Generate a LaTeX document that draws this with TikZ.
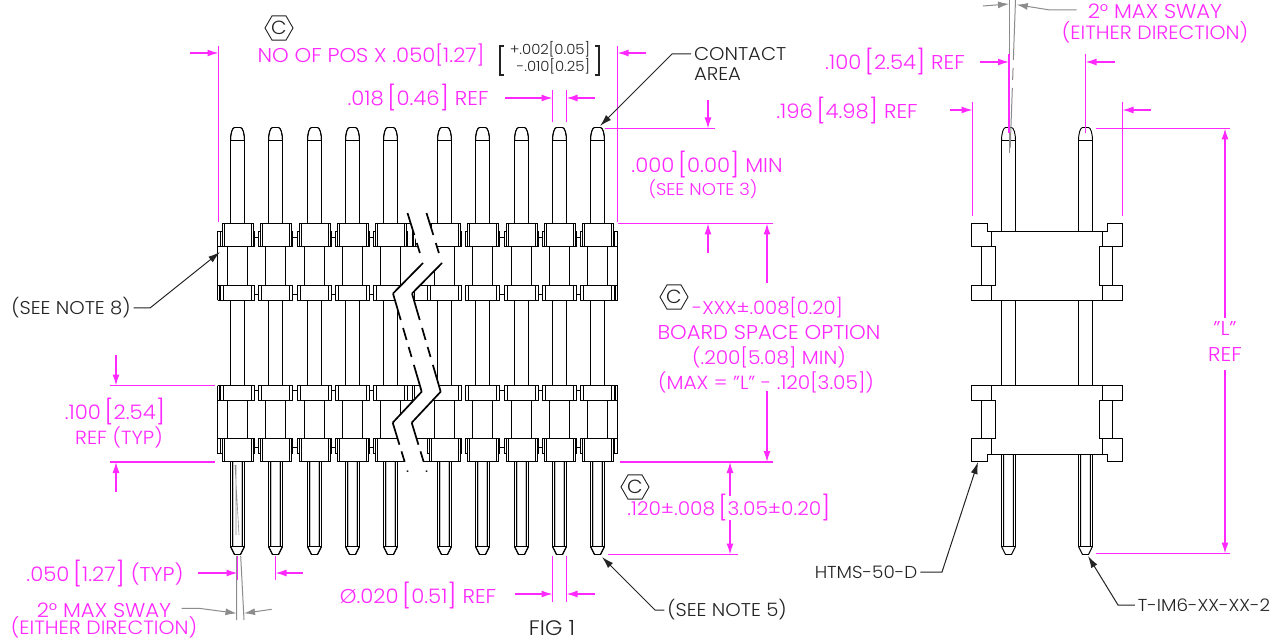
\documentclass[tikz,border=0pt]{standalone}
\usepackage{fontspec}
\setmainfont{Poppins Light}[FakeStretch=1.06]
\usepackage{tikz}
\usetikzlibrary{arrows.meta, shapes.geometric}
\definecolor{dimcol}{RGB}{255,40,255}
\definecolor{swaycol}{RGB}{140,140,140}
\definecolor{inkcol}{RGB}{35,35,35}
\tikzset{
  part/.style={draw=black, line width=0.95pt, line join=miter},
  dimln/.style={draw=dimcol, line width=1.35pt},
  dimarr/.style={dimln, -{Latex[length=11pt,width=7pt]}},
  swayln/.style={draw=swaycol, line width=1pt},
  swayarr/.style={swayln, -{Latex[length=11pt,width=7pt]}},
  leadarr/.style={draw=inkcol, line width=1pt, -{Latex[length=12pt,width=7pt]}},
  dimtxt/.style={text=dimcol, font=\fontsize{20}{20}\selectfont, inner sep=0pt},
  inktxt/.style={text=inkcol, font=\fontsize{18.5}{18.5}\selectfont, inner sep=0pt, outer sep=3pt},
  hexmark/.style={regular polygon, regular polygon sides=6, draw=inkcol, line width=0.9pt,
    minimum size=28pt, inner sep=0pt, text=inkcol, font=\fontsize{19}{19}\selectfont},
  breakln/.style={draw=black, line width=1.7pt}
}
\newcommand{\brk}[1]{\,\raisebox{-1.8pt}{\fontsize{24}{24}\selectfont[}#1\raisebox{-1.8pt}{\fontsize{24}{24}\selectfont]}}
% pin parts, local x measured from the pin axis
\newcommand{\pinHead}[1]{\draw[part] (-7,#1) -- (-7,140.5) .. controls (-7,133) and (-5,127.5) .. (-3,127.5) -- (3,127.5)
  .. controls (5,127.5) and (7,133) .. (7,140.5) -- (7,#1) (-7,140.5) -- (7,140.5);}
\newcommand{\pinFoot}[1]{\draw[part] (-7,#1) -- (-7,546.5) -- (-3,554.5) -- (3,554.5) -- (7,546.5) -- (7,#1)
  (-4.8,#1) -- (-4.8,546.5) (4.8,#1) -- (4.8,546.5) (-7,546.5) -- (7,546.5);}
\newcommand{\tallRow}[4]{\draw[part, fill=white] (-16.7,#3) rectangle (16.7,#4);
  \draw[part, fill=white] (-15.3,#1) rectangle (15.7,#2);
  \draw[part] (-13.3,#1) -- (-13.3,#2) (13.7,#1) -- (13.7,#2);}
\newcommand{\thinRow}[2]{\draw[part, fill=white] (-16.7,#1) rectangle (16.7,#2);
  \draw[part] (-14.3,#1) -- (-14.3,#2) (14,#1) -- (14,#2);}
\newcommand{\allRows}{\tallRow{223.5}{246.5}{231.5}{246.5}\thinRow{285.5}{300.5}\thinRow{385.5}{400.5}\tallRow{438.5}{461.5}{438.5}{453.5}}
\begin{document}
\begin{tikzpicture}[x=1pt, y=-1pt]
\useasboundingbox (0,0) rectangle (1270,639);
\fill[white] (0,0) rectangle (1270,639);
% sway lines inside the first pin
\draw[swaycol, line width=0.6pt] (235,465) -- (239,535) (236,465) -- (236,535);
% front view
\foreach \cx in {237.5,275.5,314.5,352.5,390.5,405.6,429,482.5,521.5,559.5} {
  \draw[part] (\cx+16.7,237.5) -- ++(6,0) (\cx+16.7,294.5) -- ++(6,0) (\cx+16.7,390.5) -- ++(6,0) (\cx+16.7,447.5) -- ++(6,0);
}
\foreach \cx in {405.6,429} \begin{scope}[xshift=\cx pt] \allRows \end{scope}
\foreach \cx in {237.5,275.5,314.5,352.5,390.5,444.5,482.5,521.5,559.5,597.5} {
  \begin{scope}[xshift=\cx pt]
    \pinHead{223.5} \pinFoot{461.5}
    \draw[part] (-7,300.5) -- (-7,385.5) (7,300.5) -- (7,385.5);
    \draw[part] (-9.7,246.5) -- (-9.7,285.5) (9.7,246.5) -- (9.7,285.5) (-9.7,400.5) -- (-9.7,438.5) (9.7,400.5) -- (9.7,438.5);
    \allRows
  \end{scope}
}
\foreach \ex/\sx in {217.5/1,617.5/-1} {
  \draw[part] (\ex,231.5) -- (\ex,300.5) (\ex,231.5) -- ++(\sx*4,0) (\ex,246.5) -- ++(\sx*4,0)
    (\ex,285.5) -- ++(\sx*5,0) (\ex,300.5) -- ++(\sx*5,0) (\ex+\sx*2.3,285.5) -- (\ex+\sx*2.3,300.5);
  \draw[part] (\ex,385.5) -- (\ex,453.5) (\ex,385.5) -- ++(\sx*5,0) (\ex,400.5) -- ++(\sx*5,0)
    (\ex,438.5) -- ++(\sx*4,0) (\ex,453.5) -- ++(\sx*4,0) (\ex+\sx*2.3,385.5) -- (\ex+\sx*2.3,400.5);
}
% break
\fill[white] (407.5,213) -- (423,263) -- (393,293.5) -- (421.7,391.7) -- (392.7,422.7) -- (407.7,471.7) -- (426.7,471.7)
  -- (411.7,422.7) -- (440.7,391.7) -- (412,293.5) -- (442,263) -- (426.5,213) -- cycle;
\foreach \sh in {0,19} {
  \begin{scope}[xshift=\sh pt]
    \draw[breakln, dash pattern=on 23pt off 8.4pt on 10.5pt off 11pt] (407.5,213) -- (423,263);
    \draw[breakln, line join=miter] (423,263) -- (393,293.5);
    \draw[breakln, dash pattern=on 27.6pt off 8.3pt on 12.5pt off 7.3pt on 10.4pt off 8.3pt on 28pt off 2pt] (393,293.5) -- (421.7,391.7);
    \draw[breakln] (421.7,391.7) -- (392.7,422.7);
    \draw[breakln, dash pattern=on 23pt off 7pt on 11pt off 9pt on 1.6pt off 3pt] (392.7,422.7) -- (407.7,471.7);
  \end{scope}
}
% side view
\foreach \cx in {1008.5,1085.5} {
  \begin{scope}[xshift=\cx pt]
    \pinHead{231.5} \pinFoot{454.5}
    \draw[part] (-7,300.5) -- (-7,385.5) (7,300.5) -- (7,385.5);
  \end{scope}
}
\foreach \ya/\yb/\yc/\yd/\ye in {223.5/231.5/246.5/285.5/300.5, 461.5/454.5/438.5/400.5/385.5} {
  \draw[part] (971.5,\ya) -- (987.5,\ya) -- (987.5,\yb) -- (1107.5,\yb) -- (1107.5,\ya) -- (1122.5,\ya) -- (1122.5,\yc) -- (1099.5,\yc)
     -- (1099.5,\yd) -- (1122.5,\yd) -- (1122.5,\ye) -- (971.5,\ye) -- (971.5,\yd) -- (995.5,\yd) -- (995.5,\yc) -- (971.5,\yc) -- cycle;
  \draw[part] (991.5,\yb) -- (991.5,\yc) (991.5,\yd) -- (991.5,\ye) (1102.5,\yb) -- (1102.5,\yc) (1102.5,\yd) -- (1102.5,\ye)
     (981.5,\yc) -- (981.5,\yd) (1112.5,\yc) -- (1112.5,\yd);
}
% sway marks
\draw[swayln] (236.5,556) -- (236.5,620) (240.7,556) -- (244,620);
\draw[swayarr] (181.7,608.3) -- (199,608.3) -- (236.5,613.3);
\draw[swayarr] (271.7,609.3) -- (244,613.3);
\draw[swayln] (1009,0) -- (1009,153);
\draw[swayln, dash pattern=on 60pt off 8pt on 12pt off 8pt on 60pt] (1015.5,0) -- (1010,153);
\draw[swayarr] (983,6) -- (1009,4);
\draw[swayarr] (1076.7,10) -- (1050,10) -- (1016.7,4.7);
% extension lines
\draw[dimln] (218.5,46) -- (218.5,222) (617.5,46) -- (617.5,222) (552.5,90) -- (552.5,122) (566.5,90) -- (566.5,122)
  (605,128.5) -- (715,128.5) (618,223.5) -- (773,223.5) (620,462) -- (773,462) (608,554.5) -- (738,554.5)
  (110,385.5) -- (215,385.5) (110,462) -- (215,462) (237.5,556) -- (237.5,580) (275.5,556) -- (275.5,580)
  (552.5,556) -- (552.5,602) (566.5,556) -- (566.5,602) (1009,54) -- (1009,133) (1085.5,54) -- (1085.5,133)
  (972.5,102) -- (972.5,216) (1122.5,102) -- (1122.5,216) (1096,128.5) -- (1230,128.5) (1096,553.5) -- (1230,553.5);
% dimension arrows
\draw[dimarr] (190,53) -- (218.5,53);
\draw[dimarr] (646,53) -- (617.5,53);
\draw[dimarr] (505,98) -- (552.5,98);
\draw[dimarr] (595,98) -- (566.5,98);
\draw[dimarr] (708,100) -- (708,128.5);
\draw[dimarr] (708,253) -- (708,223.5);
\draw[dimarr] (767,283) -- (767,223.5);
\draw[dimarr] (767,391) -- (767,462);
\draw[dimarr] (730,496) -- (730,462);
\draw[dimarr] (730,520) -- (730,554.5);
\draw[dimarr] (116,355) -- (116,385.5);
\draw[dimarr] (116,492) -- (116,462);
\draw[dimarr] (198,573) -- (237.5,573);
\draw[dimarr] (303,573) -- (275.5,573);
\draw[dimarr] (515,594) -- (552.5,594);
\draw[dimarr] (595,594) -- (566.5,594);
\draw[dimarr] (980,62) -- (1009,62);
\draw[dimarr] (1115,62) -- (1085.5,62);
\draw[dimarr] (950,110) -- (972.5,110);
\draw[dimarr] (1151,110) -- (1122.5,110);
\draw[dimarr] (1225,318) -- (1225,128.5);
\draw[dimarr] (1225,370) -- (1225,553.5);
% hex marks
\node[hexmark] (hexpos) at (279,28) {C};
\node[hexmark] (hexspace) at (674,297) {C};
\node[hexmark] (hextail) at (635,487) {C};
% labels
\node[dimtxt] (npos) at (371,55) {NO OF POS X .050[1.27]};
\node[dimtxt] (nlead) at (418,98) {.018\brk{0.46} REF};
\node[dimtxt] (nmin) at (707,165) {.000\brk{0.00} MIN};
\node[dimtxt, font=\fontsize{17}{17}\selectfont] (nnote3) at (703,189) {(SEE NOTE 3)};
\node[dimtxt, font=\fontsize{18.5}{18.5}\selectfont] (nxxx) at (767.5,308) {-XXX±.008[0.20]};
\node[dimtxt] (nboard) at (769,332) {BOARD SPACE OPTION};
\node[dimtxt, font=\fontsize{19}{19}\selectfont] (nmins) at (769,357) {(.200[5.08] MIN)};
\node[dimtxt, font=\fontsize{19}{19}\selectfont] (nmax) at (766,382) {(MAX = "L" - .120[3.05])};
\node[dimtxt, font=\fontsize{19}{19}\selectfont] (ntail) at (729,508) {.120±.008\brk{3.05±0.20}};
\node[dimtxt] (npitch) at (115,412) {.100\brk{2.54}};
\node[dimtxt, font=\fontsize{19}{19}\selectfont] (nreftyp) at (119,437) {REF (TYP)};
\node[dimtxt] (nsq) at (105,574) {.050\brk{1.27} (TYP)};
\node[dimtxt] (nswaya) at (104,610) {2° MAX SWAY};
\node[dimtxt, font=\fontsize{19.2}{19.2}\selectfont] (nswayb) at (104,627) {(EITHER DIRECTION)};
\node[dimtxt] (ndia) at (418,596) {Ø.020\brk{0.51} REF};
\node[dimtxt] (nrow) at (895,62) {.100\brk{2.54} REF};
\node[dimtxt] (nwide) at (847,111) {.196\brk{4.98} REF};
\node[dimtxt] (nswayc) at (1155,11) {2° MAX SWAY};
\node[dimtxt, font=\fontsize{19.2}{19.2}\selectfont] (nswayd) at (1155,32) {(EITHER DIRECTION)};
\node[dimtxt] (nl) at (1225,329) {"L"};
\node[dimtxt] (nref) at (1225,354) {REF};
\node[inktxt, anchor=west] (ncontact) at (691,54) {CONTACT};
\node[inktxt, anchor=west] (narea) at (691,74) {AREA};
\node[inktxt] (nnote8) at (71,308) {(SEE NOTE 8)};
\node[inktxt] (nnote5) at (727,610) {(SEE NOTE 5)};
\node[inktxt, font=\fontsize{17.3}{17.3}\selectfont] (nhtms) at (866,572) {HTMS-50-D};
\node[inktxt, font=\fontsize{17.3}{17.3}\selectfont] (ntim) at (1204,605) {T-IM6-XX-XX-2};
\node[inktxt, font=\fontsize{21}{21}\selectfont] (nfig) at (552,628.5) {FIG 1};
% tolerance
\node[inktxt, font=\fontsize{14}{15.5}\selectfont, align=right, anchor=east] (ntol) at (593,58) {+.002[0.05]\\-.010[0.25]};
\draw[draw=inkcol, line width=1.8pt] (504,46) -- (500,46) -- (500,75) -- (504,75) (595,46) -- (599,46) -- (599,75) -- (595,75);
% leaders
\coordinate (tipcontact) at (600,126);
\coordinate (tipnote8) at (220,252);
\coordinate (tipnote5) at (602,557);
\coordinate (tiphtms) at (978,462);
\coordinate (tiptim) at (1088,556);
\draw[leadarr] (ncontact.west) -- (672,54) -- (tipcontact);
\draw[leadarr] (nnote8.east) -- (150,308) -- (tipnote8);
\draw[leadarr] (nnote5.west) -- (655,610) -- (tipnote5);
\draw[leadarr] (nhtms.east) -- (942,572) -- (tiphtms);
\draw[leadarr] (ntim.west) -- (1118,605) -- (tiptim);
\end{tikzpicture}
\end{document}
